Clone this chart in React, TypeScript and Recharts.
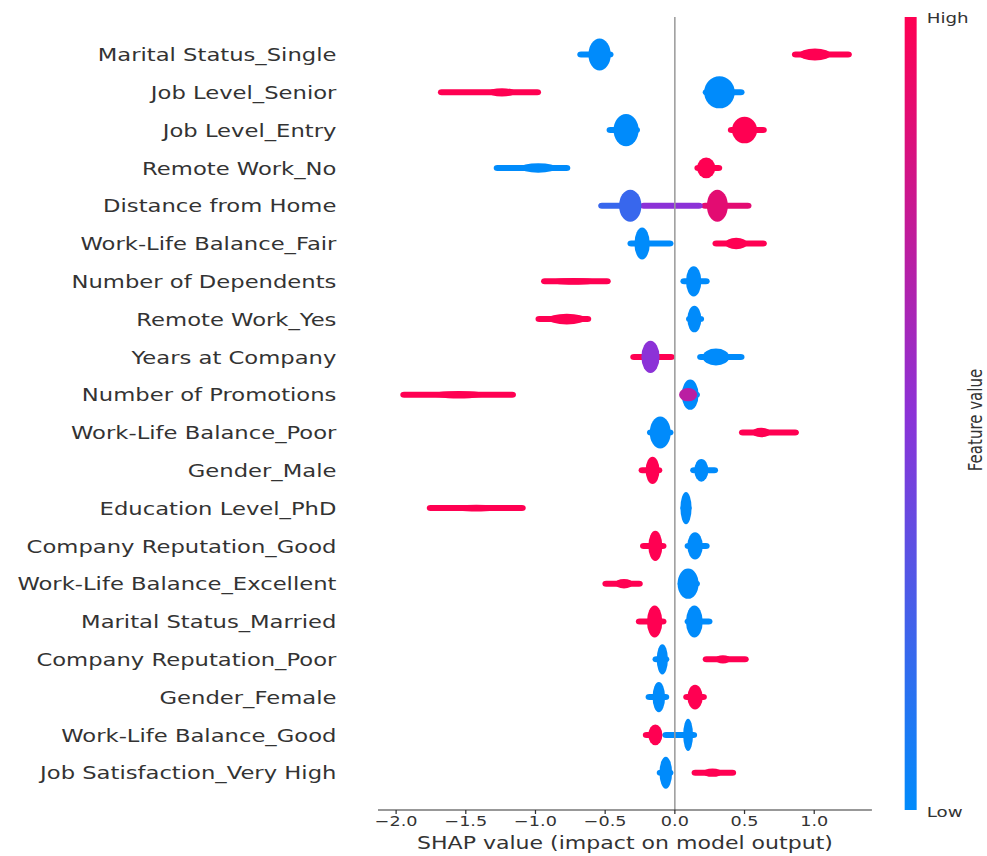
import React from 'react';
import { ComposedChart, Bar, XAxis, YAxis, ReferenceLine } from 'recharts';

type Span = [number, number] | null;

const features = [
  'Marital Status_Single',
  'Job Level_Senior',
  'Job Level_Entry',
  'Remote Work_No',
  'Distance from Home',
  'Work-Life Balance_Fair',
  'Number of Dependents',
  'Remote Work_Yes',
  'Years at Company',
  'Number of Promotions',
  'Work-Life Balance_Poor',
  'Gender_Male',
  'Education Level_PhD',
  'Company Reputation_Good',
  'Work-Life Balance_Excellent',
  'Marital Status_Married',
  'Company Reputation_Poor',
  'Gender_Female',
  'Work-Life Balance_Good',
  'Job Satisfaction_Very High',
];

// low feature values (blue): full extent of the points, dense part, height of the dense part
const lowTail: Span[] = [
  [-0.70, -0.44], [0.20, 0.50], [-0.49, -0.25], [-1.30, -0.75], [-0.55, -0.25],
  [-0.34, -0.01], [0.04, 0.25], [0.08, 0.21], [0.16, 0.50], [0.04, 0.18],
  [-0.20, -0.01], [0.11, 0.31], [0.04, 0.12], [0.07, 0.25], [0.02, 0.18],
  [0.07, 0.27], [-0.16, -0.04], [-0.21, -0.04], [-0.09, 0.16], [-0.13, -0.01],
];
const lowCore: Span[] = [
  [-0.62, -0.46], [0.21, 0.43], [-0.44, -0.26], [-1.11, -0.85], [-0.40, -0.24],
  [-0.29, -0.18], [0.08, 0.19], [0.09, 0.19], [0.20, 0.39], [0.05, 0.17],
  [-0.18, -0.03], [0.14, 0.24], [0.04, 0.12], [0.09, 0.20], [0.02, 0.17],
  [0.08, 0.20], [-0.13, -0.05], [-0.16, -0.07], [0.06, 0.13], [-0.11, -0.02],
];
const lowThick = [
  0.85, 0.85, 0.85, 0.25, 0.85, 0.85, 0.8, 0.7, 0.45, 0.8,
  0.85, 0.6, 0.85, 0.72, 0.8, 0.85, 0.8, 0.8, 0.85, 0.85,
];
const lowLevel = [
  0, 0, 0, 0, 0.2, 0, 0, 0, 0, 0,
  0, 0, 0, 0, 0, 0, 0, 0, 0, 0,
];

// high feature values (red)
const highTail: Span[] = [
  [0.84, 1.27], [-1.70, -0.96], [0.38, 0.66], [0.14, 0.34], [0.19, 0.55],
  [0.27, 0.66], [-0.96, -0.46], [-1.0, -0.6], [-0.32, 0.0], [-1.97, -1.14],
  [0.46, 0.89], [-0.26, -0.09], [-1.78, -1.07], [-0.25, -0.06], [-0.52, -0.23],
  [-0.28, -0.06], [0.20, 0.53], [0.06, 0.23], [-0.23, -0.09], [0.12, 0.44],
];
const highCore: Span[] = [
  [0.89, 1.12], [-1.34, -1.14], [0.41, 0.59], [0.16, 0.29], [0.23, 0.38],
  [0.36, 0.52], [-0.91, -0.54], [-0.91, -0.64], null, [-1.75, -1.35],
  [0.55, 0.69], [-0.21, -0.11], [-1.6, -1.25], [-0.19, -0.09], [-0.43, -0.30],
  [-0.20, -0.09], [0.29, 0.40], [0.09, 0.20], [-0.19, -0.09], [0.20, 0.34],
];
const highThick = [
  0.32, 0.22, 0.7, 0.55, 0.85, 0.3, 0.18, 0.28, 0, 0.2,
  0.25, 0.72, 0.18, 0.8, 0.25, 0.85, 0.22, 0.65, 0.55, 0.22,
];
const highLevel = [
  1, 1, 1, 1, 0.88, 1, 1, 1, 1, 1,
  1, 1, 1, 1, 1, 1, 1, 1, 1, 1,
];

// mid feature values (purple)
const midTail: Span[] = [
  null, null, null, null, [-0.25, 0.20], null, null, null, null, null,
  null, null, null, null, null, null, null, null, null, null,
];
const midCore: Span[] = [
  null, null, null, null, null, null, null, null, [-0.24, -0.11], [0.03, 0.16],
  null, null, null, null, null, null, null, null, null, null,
];
const midThick = [
  0, 0, 0, 0, 0, 0, 0, 0, 0.85, 0.35,
  0, 0, 0, 0, 0, 0, 0, 0, 0, 0,
];
const midLevel = [
  0.5, 0.5, 0.5, 0.5, 0.5, 0.5, 0.5, 0.5, 0.5, 0.7,
  0.5, 0.5, 0.5, 0.5, 0.5, 0.5, 0.5, 0.5, 0.5, 0.5,
];

const xTicks = [-2, -1.5, -1, -0.5, 0, 0.5, 1];

const data = features.map((feature, i) => ({
  feature,
  lowTail: lowTail[i], lowCore: lowCore[i], lowThick: lowThick[i], lowLevel: lowLevel[i],
  highTail: highTail[i], highCore: highCore[i], highThick: highThick[i], highLevel: highLevel[i],
  midTail: midTail[i], midCore: midCore[i], midThick: midThick[i], midLevel: midLevel[i],
}));

// the reference image is stretched horizontally
const SX = 1.26;
const W = 987 / SX;
const H = 856;
const ROW = 37.8;
const FONT = '"DejaVu Sans", sans-serif';

const BLUE = [0, 139, 251];
const PURPLE = [140, 50, 215];
const RED = [255, 0, 82];

function levelColor(t: number) {
  const [a, b, u] = t <= 0.5 ? [BLUE, PURPLE, t / 0.5] : [PURPLE, RED, (t - 0.5) / 0.5];
  const c = a.map((v, k) => Math.round(v + (b[k] - v) * u));
  return `rgb(${c[0]},${c[1]},${c[2]})`;
}

const blob = (kind: 'tail' | 'core', group: string) => (props: any) => {
  const { x, y, width, height, payload } = props;
  if (!payload || !payload[`${group}${kind === 'tail' ? 'Tail' : 'Core'}`] || !(width > 0)) return null;
  const fill = levelColor(payload[`${group}Level`]);
  const cy = y + height / 2;
  if (kind === 'tail') {
    const h = 6;
    return <rect x={x} y={cy - h / 2} width={width} height={h} rx={h / 2} fill={fill} />;
  }
  const ry = (payload[`${group}Thick`] * ROW) / 2;
  return <ellipse cx={x + width / 2} cy={cy} rx={width / 2} ry={ry} fill={fill} />;
};

const fmt = (v: number) => (v < 0 ? '\u2212' + Math.abs(v).toFixed(1) : v.toFixed(1));

export default function App() {
  return (
    <div
      style={{
        position: 'absolute',
        left: 0,
        top: 0,
        width: W,
        height: H,
        transform: `scaleX(${SX})`,
        transformOrigin: '0 0',
        background: '#fff',
      }}
    >
      <ComposedChart
        width={W}
        height={H}
        data={data}
        layout="vertical"
        margin={{ top: 17, right: W - 692, bottom: 0, left: 0 }}
        barSize={37}
        barGap={-37}
      >
        <XAxis
          type="number"
          domain={[-2.13, 1.414]}
          ticks={xTicks}
          tickFormatter={fmt}
          allowDataOverflow
          height={46}
          stroke="#333"
          tickSize={4}
          tickMargin={2}
          tick={{ fontSize: 14, fill: '#333', fontFamily: FONT }}
          label={{
            value: 'SHAP value (impact on model output)',
            position: 'insideBottom',
            offset: 7,
            style: { fontSize: 17.5, fill: '#333', fontFamily: FONT },
          }}
        />
        <YAxis
          type="category"
          dataKey="feature"
          width={300}
          axisLine={false}
          tickLine={false}
          tickSize={0}
          tickMargin={33}
          interval={0}
          padding={{ top: 19, bottom: 18 }}
          tick={{ fontSize: 18, fill: '#333', fontFamily: FONT }}
        />
        <ReferenceLine x={0} stroke="#999" strokeWidth={1.2} />
        <Bar dataKey="lowTail" isAnimationActive={false} shape={blob('tail', 'low')} />
        <Bar dataKey="highTail" isAnimationActive={false} shape={blob('tail', 'high')} />
        <Bar dataKey="midTail" isAnimationActive={false} shape={blob('tail', 'mid')} />
        <Bar dataKey="lowCore" isAnimationActive={false} shape={blob('core', 'low')} />
        <Bar dataKey="highCore" isAnimationActive={false} shape={blob('core', 'high')} />
        <Bar dataKey="midCore" isAnimationActive={false} shape={blob('core', 'mid')} />
      </ComposedChart>
      <svg
        width={W}
        height={H}
        style={{ position: 'absolute', left: 0, top: 0, pointerEvents: 'none' }}
      >
        <defs>
          <linearGradient id="fv" x1="0" y1="1" x2="0" y2="0">
            <stop offset="0%" stopColor={levelColor(0)} />
            <stop offset="50%" stopColor={levelColor(0.5)} />
            <stop offset="100%" stopColor={levelColor(1)} />
          </linearGradient>
        </defs>
        <rect x={718} y={17} width={9.5} height={793} fill="url(#fv)" />
        <text x={735.5} y={18} dy="0.36em" fontSize={14.5} fill="#333" fontFamily={FONT}>
          High
        </text>
        <text x={735.5} y={812} dy="0.36em" fontSize={14.5} fill="#333" fontFamily={FONT}>
          Low
        </text>
        <text
          x={774}
          y={420}
          transform="rotate(-90 774 420)"
          textAnchor="middle"
          dy="0.36em"
          fontSize={15}
          fill="#333"
          fontFamily={FONT}
        >
          Feature value
        </text>
      </svg>
    </div>
  );
}
